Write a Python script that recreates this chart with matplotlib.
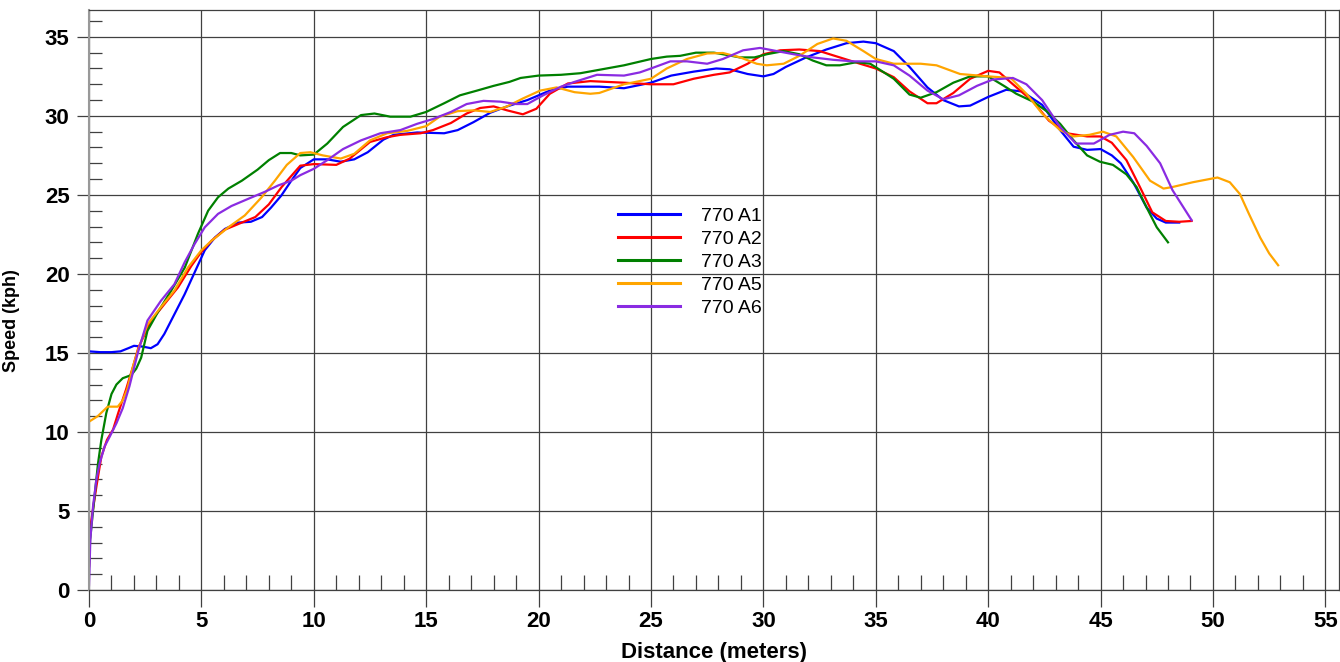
import matplotlib
matplotlib.use("Agg")
import matplotlib.pyplot as plt
from matplotlib.ticker import MultipleLocator

plt.rcParams['font.family'] = ['Liberation Sans', 'DejaVu Sans']

# distance (m) / speed (kph) per run
a1_dist = [0, 0.5, 1.0, 1.4, 1.75, 2.0, 2.4, 2.75, 3.05, 3.35, 3.8, 4.25, 4.7, 5.15, 5.6, 6.05,
           6.65, 7.2, 7.7, 8.1, 8.55, 9.0, 9.4, 10.0, 10.6, 11.2, 11.8, 12.4, 13.1, 13.55, 14.6,
           15.8, 16.4, 17.1, 17.85, 18.6, 19.5, 20.5, 21.3, 22.7, 23.8, 25.0, 25.9, 26.9, 27.9,
           28.5, 29.3, 30.0, 30.45, 31.0, 31.9, 32.8, 33.7, 34.45, 35.0, 35.8, 36.5, 37.3, 38.0,
           38.7, 39.2, 40.0, 40.8, 41.5, 42.4, 43.2, 43.8, 44.4, 45.0, 45.5, 45.9, 46.45, 47.05,
           47.5, 47.9, 48.5]
a1_speed = [15.1, 15.05, 15.05, 15.1, 15.3, 15.45, 15.4, 15.3, 15.55, 16.2, 17.45, 18.7, 20.1,
            21.5, 22.3, 22.85, 23.25, 23.3, 23.6, 24.2, 24.95, 25.9, 26.7, 27.25, 27.25, 27.1,
            27.25, 27.7, 28.5, 28.8, 28.95, 28.9, 29.1, 29.6, 30.2, 30.6, 31.0, 31.6, 31.85,
            31.85, 31.75, 32.1, 32.55, 32.8, 33.0, 32.95, 32.65, 32.5, 32.65, 33.1, 33.7, 34.2,
            34.6, 34.7, 34.6, 34.1, 33.1, 31.8, 31.0, 30.6, 30.65, 31.2, 31.65, 31.55, 30.7,
            29.1, 28.05, 27.85, 27.9, 27.5, 27.0, 25.8, 24.2, 23.5, 23.25, 23.25]

a2_dist = [0, 0.06, 0.33, 0.55, 0.8, 1.07, 1.3, 1.65, 1.96, 2.2, 2.77, 3.36, 3.96, 4.55, 5.0,
           5.45, 6.04, 6.8, 7.4, 8.0, 8.57, 9.0, 9.4, 10.0, 11.0, 11.6, 12.5, 13.25, 13.85,
           14.75, 15.3, 16.1, 16.8, 17.4, 18.0, 18.6, 19.3, 19.9, 20.5, 21.3, 22.3, 23.8, 25.0,
           26.0, 26.9, 27.8, 28.5, 29.3, 30.0, 30.75, 31.6, 32.5, 33.4, 34.3, 35.0, 35.8, 36.5,
           37.3, 37.7, 38.45, 39.2, 40.0, 40.5, 41.1, 42.0, 42.7, 43.5, 44.4, 45.0, 45.5, 46.15,
           46.75, 47.3, 47.9, 48.5, 49.05]
a2_speed = [1.5, 4.0, 6.55, 8.45, 9.5, 10.15, 11.2, 12.7, 14.15, 15.35, 17.05, 18.1, 19.15,
            20.5, 21.4, 22.1, 22.8, 23.25, 23.6, 24.4, 25.5, 26.2, 26.85, 26.95, 26.9, 27.3,
            28.35, 28.65, 28.8, 28.9, 29.1, 29.55, 30.15, 30.5, 30.6, 30.35, 30.1, 30.45, 31.4,
            32.05, 32.2, 32.1, 32.0, 32.0, 32.35, 32.6, 32.75, 33.3, 33.9, 34.15, 34.2, 34.1,
            33.7, 33.3, 33.0, 32.45, 31.55, 30.8, 30.8, 31.45, 32.35, 32.85, 32.75, 32.0, 30.9,
            29.7, 28.9, 28.7, 28.7, 28.3, 27.2, 25.5, 23.9, 23.35, 23.3, 23.35]

a3_dist = [0, 0.05, 0.2, 0.4, 0.55, 0.77, 1.0, 1.22, 1.5, 1.88, 2.1, 2.32, 2.6, 3.07, 3.66,
           4.26, 4.85, 5.3, 5.74, 6.2, 6.8, 7.5, 8.0, 8.5, 9.0, 9.4, 10.0, 10.6, 11.3, 12.1,
           12.7, 13.4, 14.3, 15.0, 15.8, 16.5, 17.26, 18.0, 18.7, 19.2, 20.0, 21.0, 21.86, 23.8,
           25.0, 25.7, 26.3, 27.0, 27.8, 28.4, 28.95, 29.6, 30.15, 30.9, 31.6, 32.2, 32.8, 33.4,
           34.15, 34.75, 35.2, 35.8, 36.5, 37.0, 37.7, 38.45, 39.2, 40.0, 40.7, 41.25, 42.0,
           42.6, 43.2, 43.8, 44.4, 44.97, 45.55, 46.15, 46.6, 47.05, 47.5, 48.0]
a3_speed = [1.5, 3.2, 5.3, 8.0, 9.5, 11.2, 12.4, 13.0, 13.4, 13.6, 14.0, 14.7, 16.4, 17.6,
            18.95, 20.4, 22.55, 24.0, 24.85, 25.4, 25.9, 26.6, 27.2, 27.65, 27.65, 27.5, 27.55,
            28.25, 29.3, 30.05, 30.15, 29.95, 29.95, 30.25, 30.8, 31.3, 31.6, 31.9, 32.15, 32.4,
            32.55, 32.6, 32.7, 33.2, 33.6, 33.75, 33.8, 34.0, 34.0, 33.85, 33.7, 33.7, 33.9,
            34.1, 33.9, 33.5, 33.2, 33.2, 33.4, 33.3, 32.9, 32.35, 31.35, 31.15, 31.5, 32.1,
            32.5, 32.5, 31.9, 31.4, 30.9, 30.3, 29.5, 28.45, 27.5, 27.1, 26.9, 26.3, 25.5, 24.2,
            22.95, 22.0]

a5_dist = [0, 0.39, 0.83, 1.28, 1.5, 1.7, 1.96, 2.17, 2.6, 3.2, 3.8, 4.4, 5.0, 5.45, 6.2, 6.93,
           7.68, 8.27, 8.8, 9.4, 9.85, 10.4, 11.2, 11.8, 12.5, 13.26, 14.15, 15.0, 15.6, 16.4,
           17.1, 17.85, 18.6, 19.3, 20.07, 20.8, 21.6, 22.3, 22.7, 23.8, 25.0, 25.7, 26.6, 27.5,
           28.2, 28.97, 29.7, 30.15, 30.9, 31.6, 32.4, 33.1, 33.7, 34.45, 35.0, 35.8, 37.0, 37.7,
           38.75, 40.0, 41.0, 41.7, 42.4, 43.2, 43.8, 44.5, 45.1, 45.7, 46.45, 47.2, 47.8, 48.2,
           49.1, 50.2, 50.75, 51.2, 51.6, 52.1, 52.5, 52.9]
a5_speed = [10.65, 11.0, 11.6, 11.6, 12.0, 12.7, 14.15, 15.15, 16.8, 17.9, 18.95, 20.4, 21.5,
            22.1, 22.95, 23.7, 24.85, 25.9, 26.9, 27.65, 27.7, 27.5, 27.3, 27.6, 28.45, 28.9,
            29.05, 29.35, 29.95, 30.3, 30.35, 30.25, 30.6, 31.1, 31.6, 31.8, 31.5, 31.4, 31.45,
            32.0, 32.35, 33.0, 33.6, 33.95, 33.98, 33.7, 33.3, 33.2, 33.3, 33.8, 34.55, 34.9,
            34.75, 34.1, 33.6, 33.3, 33.3, 33.2, 32.65, 32.5, 32.4, 31.4, 30.15, 29.1, 28.7,
            28.8, 29.0, 28.7, 27.4, 25.9, 25.4, 25.5, 25.8, 26.1, 25.8, 25.05, 23.8, 22.3, 21.3,
            20.55]

a6_dist = [0, 0.06, 0.18, 0.33, 0.47, 0.7, 0.92, 1.22, 1.5, 1.8, 2.17, 2.6, 3.2, 3.8, 4.26,
           4.7, 5.15, 5.74, 6.34, 7.08, 7.83, 8.42, 9.0, 9.4, 10.0, 10.6, 11.3, 12.1, 12.96,
           13.85, 14.6, 15.3, 16.1, 16.8, 17.55, 18.3, 19.0, 19.5, 20.2, 21.0, 21.6, 22.6, 23.8,
           24.5, 25.0, 25.86, 26.6, 27.5, 28.2, 29.1, 29.85, 30.6, 31.35, 32.2, 33.1, 34.0, 35.0,
           35.8, 36.5, 37.3, 38.0, 38.7, 39.5, 40.2, 41.1, 41.7, 42.4, 43.2, 43.9, 44.7, 45.4,
           46.0, 46.5, 47.05, 47.65, 48.2, 49.05]
a6_speed = [0.3, 3.2, 5.3, 7.0, 8.0, 9.1, 9.7, 10.55, 11.5, 12.9, 15.0, 17.05, 18.3, 19.35,
            20.75, 21.9, 22.95, 23.8, 24.3, 24.75, 25.2, 25.6, 25.9, 26.25, 26.65, 27.2, 27.9,
            28.45, 28.9, 29.1, 29.5, 29.8, 30.25, 30.75, 30.95, 30.9, 30.75, 30.75, 31.3, 31.85,
            32.15, 32.6, 32.55, 32.75, 33.0, 33.45, 33.45, 33.3, 33.6, 34.15, 34.3, 34.1, 33.9,
            33.7, 33.55, 33.45, 33.45, 33.2, 32.55, 31.6, 31.05, 31.3, 31.9, 32.3, 32.4, 32.0,
            31.0, 29.3, 28.25, 28.25, 28.8, 29.0, 28.9, 28.1, 27.0, 25.3, 23.4]

runs = [
    ("770 A1", a1_dist, a1_speed, "#0000ff"),
    ("770 A2", a2_dist, a2_speed, "#ff0000"),
    ("770 A3", a3_dist, a3_speed, "#008000"),
    ("770 A5", a5_dist, a5_speed, "#ffa500"),
    ("770 A6", a6_dist, a6_speed, "#8a2be2"),
]

fig = plt.figure(figsize=(13.4, 6.62), dpi=100)
ax = fig.add_axes([89 / 1340, 72 / 662, 1250.3 / 1340, 580 / 662])

for name, d, s, c in runs:
    ax.plot(d, s, color=c, linewidth=1.6, label=name)

ax.set_xlim(0, 55.62)
ax.set_ylim(0, 36.7)

ax.xaxis.set_major_locator(MultipleLocator(5))
ax.xaxis.set_minor_locator(MultipleLocator(1))
ax.yaxis.set_major_locator(MultipleLocator(5))
ax.yaxis.set_minor_locator(MultipleLocator(1))

ax.grid(which="major", color="#404040", linewidth=0.9)
ax.set_axisbelow(True)

ax.tick_params(axis="x", which="major", direction="out", length=12, width=0.9,
               color="#404040", pad=3, labelsize=16)
ax.tick_params(axis="x", which="minor", direction="in", length=11, width=0.9, color="#404040")
ax.tick_params(axis="y", which="major", direction="out", length=9, width=0.9,
               color="#404040", pad=5, labelsize=16)
ax.tick_params(axis="y", which="minor", direction="in", length=9, width=0.9, color="#404040")
for lbl in ax.get_xticklabels() + ax.get_yticklabels():
    lbl.set_fontweight("bold")

for side in ["top", "right", "bottom"]:
    ax.spines[side].set_color("#404040")
    ax.spines[side].set_linewidth(0.9)
ax.spines["left"].set_color("#999999")
ax.spines["left"].set_linewidth(1.5)

ax.set_xlabel("Distance (meters)", fontsize=16, fontweight="bold", labelpad=7)
ax.set_ylabel("Speed (kph)", fontsize=13, fontweight="bold")
ax.yaxis.set_label_coords(-0.055, 0.464)

leg = ax.legend(loc="center", bbox_to_anchor=(690 / 1340, 1 - 262 / 662),
                bbox_transform=fig.transFigure, frameon=False, fontsize=14,
                handlelength=3.2, handletextpad=1.1, labelspacing=0.28)
for line in leg.get_lines():
    line.set_linewidth(2.2)

fig.savefig("out.png", dpi=100)
